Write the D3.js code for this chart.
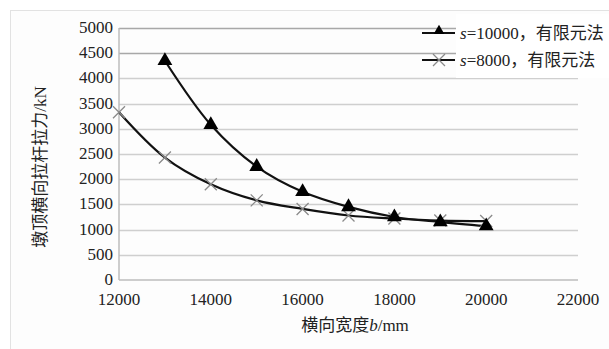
<!DOCTYPE html>
<html>
<head>
<meta charset="utf-8">
<script src="https://cdn.jsdelivr.net/npm/d3@7"></script>
<style>
  body { margin: 0; background: #fff; }
</style>
</head>
<body>
<div id="chart"></div>
<script>
// data
var widths = [12000, 13000, 14000, 15000, 16000, 17000, 18000, 19000, 20000];
var s10000 = [null, 4350, 3080, 2250, 1750, 1450, 1250, 1150, 1070];
var s8000 = [3330, 2430, 1900, 1580, 1410, 1280, 1220, 1180, 1170];
var xTicks = [12000, 14000, 16000, 18000, 20000, 22000];
var yTicks = [0, 500, 1000, 1500, 2000, 2500, 3000, 3500, 4000, 4500, 5000];

var W = 609, H = 349;
var margin = {top: 28, right: 31, bottom: 69, left: 119};
var serif = "'Liberation Serif', 'Noto Sans CJK SC', serif";

var svg = d3.select("#chart").append("svg")
    .attr("width", W)
    .attr("height", H)
    .style("font-family", serif);

// chart frame
svg.append("rect")
    .attr("x", 10.5).attr("y", 10.5)
    .attr("width", W - 10).attr("height", H - 10)
    .attr("fill", "#fdfdfd")
    .attr("stroke", "#e2e2e2");

var x = d3.scaleLinear().domain([12000, 22000]).range([margin.left, W - margin.right]);
var y = d3.scaleLinear().domain([0, 5000]).range([H - margin.bottom, margin.top]);

// gridlines
svg.append("g")
  .selectAll("line")
  .data(yTicks.filter(function(d) { return d > 0; }))
  .enter().append("line")
    .attr("x1", x(12000)).attr("x2", x(22000))
    .attr("y1", function(d) { return Math.round(y(d)) + 0.5; })
    .attr("y2", function(d) { return Math.round(y(d)) + 0.5; })
    .attr("stroke", function(d) { return d >= 4500 ? "#a8a8a8" : "#cfcfcf"; })
    .attr("stroke-width", 1.5);

// axes lines
svg.append("line")
    .attr("x1", x(12000)).attr("x2", x(22000))
    .attr("y1", y(0)).attr("y2", y(0))
    .attr("stroke", "#bdbdbd").attr("stroke-width", 1.5);
svg.append("line")
    .attr("x1", x(12000)).attr("x2", x(12000))
    .attr("y1", y(0)).attr("y2", y(5000))
    .attr("stroke", "#bdbdbd").attr("stroke-width", 1.5);

// tick labels
svg.append("g")
  .selectAll("text")
  .data(yTicks)
  .enter().append("text")
    .attr("x", x(12000) - 6)
    .attr("y", function(d) { return y(d) + 5; })
    .attr("text-anchor", "end")
    .attr("font-size", 17)
    .attr("fill", "#222")
    .text(function(d) { return d; });

svg.append("g")
  .selectAll("text")
  .data(xTicks)
  .enter().append("text")
    .attr("x", function(d) { return x(d); })
    .attr("y", y(0) + 25)
    .attr("text-anchor", "middle")
    .attr("font-size", 17)
    .attr("fill", "#222")
    .text(function(d) { return d; });

// axis titles
var xt = svg.append("text")
    .attr("x", 355).attr("y", 331)
    .attr("text-anchor", "middle")
    .attr("font-size", 17)
    .attr("fill", "#222");
xt.append("tspan").text("横向宽度");
xt.append("tspan").attr("font-style", "italic").text("b");
xt.append("tspan").text("/mm");

svg.append("text")
    .attr("transform", "translate(46,167) rotate(-90)")
    .attr("text-anchor", "middle")
    .attr("font-size", 17)
    .attr("fill", "#222")
    .text("墩顶横向拉杆拉力/kN");

// curves
var line = d3.line()
    .defined(function(d) { return d[1] != null; })
    .x(function(d) { return x(d[0]); })
    .y(function(d) { return y(d[1]); })
    .curve(d3.curveCatmullRom.alpha(0.5));

var pts10 = widths.map(function(w, i) { return [w, s10000[i]]; });
var pts8 = widths.map(function(w, i) { return [w, s8000[i]]; });

svg.append("path").datum(pts8)
    .attr("d", line).attr("fill", "none")
    .attr("stroke", "#111").attr("stroke-width", 2.2);
svg.append("path").datum(pts10)
    .attr("d", line).attr("fill", "none")
    .attr("stroke", "#111").attr("stroke-width", 2.2);

var tri = d3.symbol().type(d3.symbolTriangle).size(95);
function cross(cx, cy, r) {
  return "M" + (cx - r) + "," + (cy - r) + "L" + (cx + r) + "," + (cy + r) +
         "M" + (cx - r) + "," + (cy + r) + "L" + (cx + r) + "," + (cy - r);
}

svg.append("g")
  .selectAll("path")
  .data(pts8)
  .enter().append("path")
    .attr("d", function(d) { return cross(x(d[0]), y(d[1]), 6); })
    .attr("stroke", "#8a8a8a").attr("stroke-width", 1.3).attr("fill", "none");

svg.append("g")
  .selectAll("path")
  .data(pts10.filter(function(d) { return d[1] != null; }))
  .enter().append("path")
    .attr("d", tri)
    .attr("transform", function(d) { return "translate(" + x(d[0]) + "," + y(d[1]) + ")"; })
    .attr("fill", "#000");

// legend
var lg = svg.append("g");
lg.append("rect")
    .attr("x", 456).attr("y", 14).attr("width", 153).attr("height", 64)
    .attr("fill", "#fff");
[["10000", 33, "tri"], ["8000", 60, "x"]].forEach(function(e) {
  lg.append("line")
      .attr("x1", 422).attr("x2", 455).attr("y1", e[1]).attr("y2", e[1])
      .attr("stroke", "#111").attr("stroke-width", 2.2);
  if (e[2] === "tri") {
    lg.append("path").attr("d", d3.symbol().type(d3.symbolTriangle).size(50))
      .attr("transform", "translate(439," + (e[1] - 2) + ")").attr("fill", "#000");
  } else {
    lg.append("path").attr("d", cross(439, e[1], 6))
      .attr("stroke", "#8a8a8a").attr("stroke-width", 1.3).attr("fill", "none");
  }
  var t = lg.append("text").attr("x", 460).attr("y", e[1] + 6)
      .attr("font-size", 17).attr("fill", "#222");
  t.append("tspan").attr("font-style", "italic").text("s");
  t.append("tspan").text("=" + e[0] + "，有限元法");
});
</script>
</body>
</html>
